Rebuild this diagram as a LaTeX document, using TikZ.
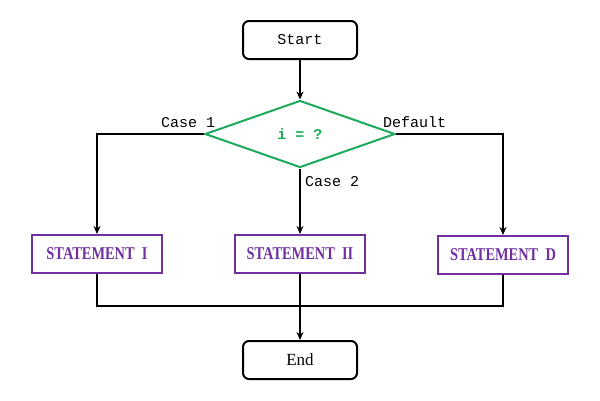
\documentclass[tikz,border=0pt]{standalone}
\usepackage{fontspec}
\setmainfont{Liberation Serif}
\newfontfamily\monof{Liberation Mono}
\newfontfamily\stmtf[FakeStretch=0.8]{Liberation Serif Bold}
\usetikzlibrary{shapes.geometric,arrows.meta}
\definecolor{dgreen}{RGB}{26,170,90}
\definecolor{dpurple}{RGB}{112,48,160}
\tikzset{
  term/.style={draw=black, line width=2pt, rounded corners=6pt, minimum width=114pt, minimum height=38pt, inner sep=0pt},
  stmt/.style={draw=dpurple, line width=2pt, minimum width=130pt, minimum height=38pt, inner sep=0pt, text=dpurple, font=\stmtf\fontsize{18}{20}\selectfont},
  dec/.style={draw=dgreen, line width=2pt, diamond, minimum width=190pt, minimum height=67pt, inner sep=0pt, text=dgreen, font=\monof\bfseries\fontsize{15}{17}\selectfont},
  conn/.style={line width=2pt, draw=black},
  arr/.style={conn, -{Stealth[length=8pt,width=7pt]}},
  lbl/.style={font=\monof\fontsize{15}{17}\selectfont, inner sep=0pt, anchor=base west}
}
\begin{document}
\begin{tikzpicture}[x=1pt,y=-1pt]
\useasboundingbox (0,0) rectangle (600,400);
\node[term, font=\monof\fontsize{15}{17}\selectfont] (start) at (300,40) {Start};
\node[dec, shape aspect=2.8] (dec) at (300,134) {i = ?};
\node[stmt] (s1) at (97,254) {STATEMENT\ \ I};
\node[stmt] (s2) at (300,254) {STATEMENT\ \ II};
\node[stmt] (s3) at (503,255) {STATEMENT\ \ D};
\node[term, font=\fontsize{17}{19}\selectfont] (end) at (300,360) {End};
\coordinate (cl) at (97,134);
\coordinate (cr) at (503,134);
\coordinate (b1) at (97,306);
\coordinate (b3) at (503,306);
\draw[arr] (start) -- (dec.north);
\draw[arr] (dec.west) -- (cl) -- (s1.north);
\draw[arr] (dec.east) -- (cr) -- (s3.north);
\draw[arr] (dec.south) -- (s2.north);
\draw[conn] (s1.south) -- (b1) -- (b3) -- (s3.south);
\draw[arr] (s2.south) -- (end.north);
\node[lbl] (l1) at (161,127) {Case 1};
\node[lbl] (l2) at (383,127) {Default};
\node[lbl] (l3) at (305,186) {Case 2};
\end{tikzpicture}
\end{document}
